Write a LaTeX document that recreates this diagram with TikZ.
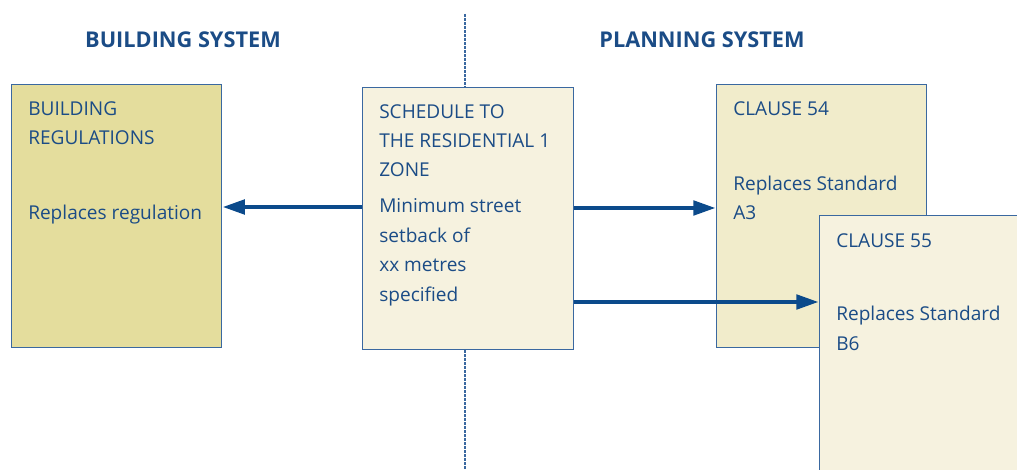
\documentclass[tikz,border=0pt]{standalone}
\usepackage{fontspec}
\setmainfont{Open Sans}
\usetikzlibrary{arrows.meta}
\definecolor{txtblue}{HTML}{1B4C86}
\definecolor{arrowblue}{HTML}{0B4A8B}
\definecolor{edgeblue}{HTML}{3A68A0}
\definecolor{olivefill}{HTML}{E4DD9D}
\definecolor{creamfill}{HTML}{F6F2DF}
\definecolor{palefill}{HTML}{F1ECCB}
\tikzset{
  box/.style={draw=edgeblue, line width=0.9pt, anchor=north west, inner sep=0pt},
  para/.style={anchor=base west, align=left, text=txtblue, inner sep=0pt,
    font=\fontsize{14.3}{22.1}\selectfont},
  heading/.style={anchor=base, text=txtblue, inner sep=0pt,
    font=\fontsize{16.3}{18}\selectfont\bfseries},
  link/.style={draw=arrowblue, line width=3.6pt, -{Triangle[length=17pt, width=10.5pt]}},
}
\begin{document}
\begin{tikzpicture}[x=0.75pt, y=-0.75pt]
    \useasboundingbox (0,0) rectangle (1017,470);
    \clip (0,0) rectangle (1017,470);
    % Divider
    \draw[edgeblue, line width=0.8pt, dash pattern=on 2pt off 1pt] (465,14) -- (465,470);
    % Titles
    \node[heading] (bsys) at (183,48) {BUILDING SYSTEM};
    \node[heading] (psys) at (702,48) {PLANNING SYSTEM};

    % Boxes
    \node[box, fill=olivefill, minimum width=210*0.75pt, minimum height=263*0.75pt] (bldg) at (11,84) {};
    \node[box, fill=creamfill, minimum width=211*0.75pt, minimum height=262*0.75pt] (sched) at (362,87) {};
    \node[box, fill=palefill, minimum width=210*0.75pt, minimum height=263*0.75pt] (cl54) at (716,84) {};
    \node[box, fill=creamfill, minimum width=220*0.75pt, minimum height=280*0.75pt] (cl55) at (819,215) {};

    % Box texts (base = last line)
    \node[para] (bldgtop) at (28,145) {BUILDING\\REGULATIONS};
    \node[para] (bldgtxt) at (28,220) {Replaces regulation};
    \node[para] (schedtop) at (379,177) {SCHEDULE TO\\THE RESIDENTIAL 1\\ZONE};
    \node[para] (schedtxt) at (379,301) {Minimum street\\setback of\\xx metres\\specified};
    \node[para] (cl54top) at (733,116) {CLAUSE 54};
    \node[para] (cl54txt) at (733,220) {Replaces Standard\\A3};
    \node[para] (cl55top) at (836,248) {CLAUSE 55};
    \node[para] (cl55txt) at (836,350) {Replaces Standard\\B6};

    % Links
    \draw[link] (sched.west |- 0,207) -- (bldg.east |- 0,207);
    \draw[link] (sched.east |- 0,208) -- (cl54.west |- 0,208);
    \draw[link] (sched.east |- 0,302) -- (cl55.west |- 0,302);
\end{tikzpicture}
\end{document}
